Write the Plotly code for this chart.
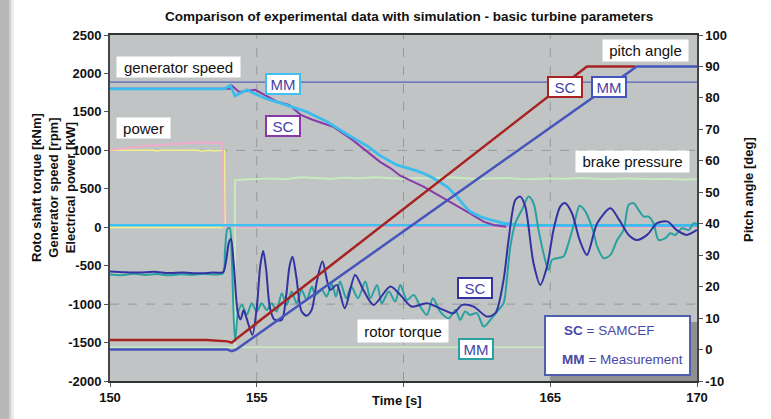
import plotly.graph_objects as go

# ---------------- data ----------------
# generator speed [rpm]
speed_mm_t = [150, 153.9, 154.1, 154.26, 154.67, 155.0, 155.35, 155.8, 156.2, 156.7, 157.4, 158.1, 158.8, 159.2,
              159.77, 160.34, 160.68, 161.02, 161.48, 161.82, 162.05, 162.27, 162.61, 162.96, 163.41, 163.87, 164.2, 170]
speed_mm_v = [1800, 1800, 1843, 1709, 1787, 1722, 1670, 1618, 1566, 1502, 1372, 1203, 1048, 931,
              810, 745, 702, 637, 528, 398, 290, 203, 138, 95, 52, 30, 25, 25]
speed_sc_t = [150, 154.1, 154.15, 154.4, 154.95, 155.25, 155.7, 156.1, 156.5, 156.9, 157.6, 158.25, 158.9, 159.2,
              159.55, 159.89, 160.68, 161.48, 162.16, 162.73, 163.07, 163.5]
speed_sc_v = [1800, 1800, 1843, 1760, 1787, 1722, 1631, 1592, 1462, 1398, 1307, 1139, 944, 850,
              770, 670, 528, 355, 203, 73, 30, 5]

# electrical power [kW]
power_sc_t = [150, 150.7, 151.4, 152.2, 153.0, 153.85, 153.87, 170]
power_sc_v = [1005, 1035, 1060, 1085, 1104, 1096, 0, 0]
power_mm_t = [150, 151.5, 151.6, 151.7, 153.0, 153.1, 153.4, 153.5, 153.9, 153.92, 154.0]
power_mm_v = [1000, 1000, 988, 1000, 1000, 988, 1000, 990, 1000, 0, 0]
power_zero_t = [150, 170]
power_zero_v = [0, 0]
speed_zero_t = [150, 170]
speed_zero_v = [25, 25]

# brake pressure
brake_t = [154.26, 154.26, 154.5, 155, 155.5, 156, 156.5, 157, 157.5, 158, 158.5, 159, 159.5, 160, 160.5, 161,
           161.5, 162, 162.5, 163, 163.5, 164, 164.5, 165, 165.5, 166, 166.5, 167, 167.5, 168, 168.5, 169, 169.5, 170]
brake_v = [-1560, 610, 620, 630, 635, 625, 650, 640, 630, 645, 635, 650, 640, 630, 640, 635,
           650, 640, 630, 635, 640, 630, 625, 635, 630, 640, 630, 625, 635, 630, 625, 630, 620, 625]
brake_base_t = [150, 170]
brake_base_v = [-1560, -1560]

# rotor torque [kNm]
torque_sc_t = [150, 150.5, 151, 151.5, 152, 152.5, 153, 153.5, 153.85, 153.95, 154.05, 154.12, 154.22, 154.35,
               154.45, 154.55, 154.65, 154.85, 155.0, 155.12, 155.22, 155.32, 155.45, 155.6, 155.85, 156.0, 156.12,
               156.22, 156.35, 156.53, 156.7, 156.87, 157.05, 157.24, 157.5, 157.73, 158.0, 158.35, 158.63, 158.98,
               159.55, 159.89, 160.28, 160.8, 161.36, 161.7, 162.0, 162.39, 162.84, 163.13, 163.41, 163.58, 163.81,
               163.98, 164.15, 164.43, 164.66, 164.89, 165.11, 165.34, 165.5, 165.74, 166.0, 166.25, 166.6, 167.05,
               167.35, 167.67, 167.96, 168.3, 168.64, 169.0, 169.3, 169.65, 170]
torque_sc_v = [-575, -585, -590, -580, -595, -590, -600, -590, -585, -450, -200, -150, -500, -1100,
               -1200, -1080, -1180, -1400, -1050, -500, -310, -550, -1050, -1200, -1205, -900, -500,
               -383, -650, -1097, -1150, -1075, -700, -447, -815, -750, -1053, -620, -815, -1010,
               -771, -880, -1032, -988, -1075, -1120, -1010, -1032, -1162, -1118, -685, -165, 355,
               398, 268, -468, -750, -512, -35, 268, 315, 182, -165, -360, 52, 247,
               95, -100, -165, -100, 52, 73, -35, -100, -35]
torque_mm_t = [150, 150.4, 150.8, 151.2, 151.6, 152, 152.4, 152.8, 153.2, 153.6, 153.85, 153.92, 154.0, 154.08,
               154.15, 154.26, 154.37, 154.5, 154.66, 154.83, 155.0, 155.17, 155.34, 155.51, 155.68, 155.85,
               156.02, 156.19, 156.36, 156.53, 156.7, 156.88, 156.99, 157.22, 157.38, 157.56, 157.7, 157.84,
               158.05, 158.22, 158.45, 158.7, 158.87, 159.1, 159.26, 159.5, 159.72, 159.89, 160.12, 160.35,
               160.57, 160.8, 161.0, 161.25, 161.54, 161.77, 161.93, 162.1, 162.27, 162.5, 162.73, 162.96,
               163.19, 163.41, 163.52, 163.64, 163.81, 164.04, 164.26, 164.43, 164.6, 164.77, 164.94, 165.06,
               165.23, 165.45, 165.62, 165.85, 166.0, 166.2, 166.45, 166.6, 166.82, 167.05, 167.28, 167.5,
               167.67, 167.84, 168.01, 168.18, 168.35, 168.52, 168.69, 168.92, 169.09, 169.26, 169.49, 169.72,
               169.89, 170]
torque_mm_v = [-615, -625, -605, -620, -610, -625, -612, -620, -605, -615, -600, -300, -20, -10,
               -400, -1487, -1097, -1010, -1140, -988, -1097, -988, -1075, -988, -1097, -858,
               -1010, -836, -988, -815, -945, -771, -880, -815, -901, -740, -901, -706,
               -923, -771, -923, -706, -923, -750, -988, -836, -967, -750, -945, -880,
               -1032, -1140, -923, -1097, -1183, -1075, -1205, -1097, -1140, -1118, -1292, -1205,
               -1097, -988, -685, -252, 52, 230, 398, 312, -35, -338, -555, -425,
               -403, -382, -208, 100, 280, 203, -35, -252, -403, -360, -165, -35,
               290, 312, 225, 138, 138, 52, -165, -143, -78, -100, -13, -35,
               52, 40]

# pitch angle [deg] (right axis)
pitch_sc_t = [150, 153.3, 154.0, 154.15, 154.25, 166.25, 167.9]
pitch_sc_v = [3.0, 3.0, 2.6, 2.2, 3.0, 90, 90]
pitch_mm_t = [150, 154.0, 154.15, 154.3, 167.95, 170]
pitch_mm_v = [0, 0, -0.5, 0, 90, 90]
ref_line_t = [150, 170]
ref_line_v = [85, 85]

x_ticks = [150, 155, 160, 165, 170]
x_tick_text = ["150", "155", "", "165", "170"]
y_ticks = list(range(-2000, 2501, 500))
y2_ticks = list(range(-10, 101, 10))

# ---------------- figure ----------------
W, H = 771, 419
L, R, T, B = 110, 74, 35, 38
PW, PH = W - L - R, H - T - B

def px(x):
    return (x - L) / PW

def py(y):
    return (H - B - y) / PH

fig = go.Figure()

def line(t, v, color, width, yaxis="y", shape="linear"):
    fig.add_trace(go.Scatter(x=t, y=v, mode="lines",
                             line=dict(color=color, width=width, shape=shape, smoothing=0.8),
                             yaxis=yaxis, showlegend=False, hoverinfo="skip"))

line(brake_base_t, brake_base_v, "#c8ecc0", 1.5)
line(power_zero_t, power_zero_v, "#f2f08a", 2)
line(power_mm_t, power_mm_v, "#f2f08a", 1.5)
line(power_sc_t, power_sc_v, "#f4a8cc", 1.8)
line(brake_t, brake_v, "#c8ecc0", 1.8)
line(speed_zero_t, speed_zero_v, "#40c0f0", 2.5)
line(ref_line_t, ref_line_v, "#5565b8", 1.3, "y2")
line(pitch_sc_t, pitch_sc_v, "#a82222", 2.5, "y2")
line(pitch_mm_t, pitch_mm_v, "#4455bb", 2.5, "y2")
line(speed_sc_t, speed_sc_v, "#8a3aa8", 2)
line(speed_mm_t, speed_mm_v, "#3cbcec", 2.8)
line(torque_mm_t, torque_mm_v, "#2aa0a0", 2, shape="spline")
line(torque_sc_t, torque_sc_v, "#3232a2", 2, shape="spline")

shapes = []
# left decorative gray strip
for x0, x1, c in [(0, 9, "#b8b8b8"), (9, 11, "#cfcfcf"), (11, 14, "#ebebeb")]:
    shapes.append(dict(type="rect", xref="paper", yref="paper", x0=px(x0), x1=px(x1), y0=py(H), y1=py(0),
                       fillcolor=c, line=dict(width=0), layer="below"))
# grid lines
for xv in [155, 160, 165]:
    shapes.append(dict(type="line", xref="x", yref="paper", x0=xv, x1=xv, y0=0, y1=1,
                       line=dict(color="#959898", width=1, dash="dash"), layer="below"))
for yv in [1000, -1000]:
    shapes.append(dict(type="line", xref="paper", yref="y", x0=0, x1=1, y0=yv, y1=yv,
                       line=dict(color="#959898", width=1, dash="dash"), layer="below"))
# legend box shadow + box
shapes.append(dict(type="rect", xref="paper", yref="paper", x0=px(551), x1=px(697), y0=py(381), y1=py(322),
                   fillcolor="#8e9090", line=dict(width=0), layer="above"))
shapes.append(dict(type="rect", xref="paper", yref="paper", x0=px(545), x1=px(690), y0=py(375), y1=py(316),
                   fillcolor="white", line=dict(color="#5060b0", width=2), layer="above"))

ann = []
lab_font = dict(family="Liberation Sans, Arial, sans-serif", size=15, color="#111111")

def label(text, cx, cy, w, h):
    ann.append(dict(text=text, x=px(cx), y=py(cy), xref="paper", yref="paper", showarrow=False,
                    font=lab_font, bgcolor="white", borderpad=0, width=w, height=h,
                    xanchor="center", yanchor="middle"))

label("generator speed", 178, 67, 123, 20)
label("power", 143, 128, 53, 20)
label("pitch angle", 645, 51, 85, 21)
label("brake pressure", 632, 161, 113, 21)
label("rotor torque", 403, 331, 90, 22)

def tag(text, cx, cy, border):
    ann.append(dict(text=text, x=px(cx), y=py(cy), xref="paper", yref="paper", showarrow=False,
                    font=dict(family="Liberation Sans, Arial, sans-serif", size=15, color="#4444a4"),
                    bgcolor="white", bordercolor=border, borderwidth=2, borderpad=0, width=32, height=18,
                    xanchor="center", yanchor="middle"))

tag("MM", 283, 84, "#40c0f0")
tag("SC", 283, 126, "#8a3aa8")
tag("SC", 565, 87, "#a82222")
tag("MM", 609, 87, "#4455bb")
tag("SC", 475, 288, "#3232a2")
tag("MM", 476, 349, "#2aa0a0")

leg_font = dict(family="Liberation Sans, Arial, sans-serif", size=13.5, color="#4848a8")
ann.append(dict(text="<b>SC</b> = SAMCEF", x=px(562), y=py(330), xref="paper", yref="paper",
                showarrow=False, font=leg_font, xanchor="left", yanchor="middle"))
ann.append(dict(text="<b>MM</b> = Measurement", x=px(560), y=py(359), xref="paper", yref="paper",
                showarrow=False, font=leg_font, xanchor="left", yanchor="middle"))

# titles
ann.append(dict(text="<b>Comparison of experimental data with simulation - basic turbine parameters</b>",
                x=px(409), y=py(16), xref="paper", yref="paper", showarrow=False,
                font=dict(family="Liberation Sans Narrow, Liberation Sans, Arial, sans-serif", size=13.5, color="#111111"),
                xanchor="center", yanchor="middle"))
ann.append(dict(text="<b>Roto shaft torque [kNm]<br>Generator speed [rpm]<br>Electrical power [kW]</b>",
                x=px(53), y=py(187), xref="paper", yref="paper", showarrow=False, textangle=-90,
                font=dict(family="Liberation Sans, Arial, sans-serif", size=13, color="#111111"),
                xanchor="center", yanchor="middle"))
ann.append(dict(text="<b>Pitch angle [deg]</b>", x=px(748), y=py(190), xref="paper", yref="paper",
                showarrow=False, textangle=-90,
                font=dict(family="Liberation Sans, Arial, sans-serif", size=13, color="#111111"),
                xanchor="center", yanchor="middle"))
ann.append(dict(text="<b>Time [s]</b>", x=px(397), y=py(400), xref="paper", yref="paper", showarrow=False,
                font=dict(family="Liberation Sans, Arial, sans-serif", size=13, color="#111111"),
                xanchor="center", yanchor="middle"))

tick_font = dict(family="Liberation Sans, Arial, sans-serif", size=13, color="#111111", weight="bold")

fig.update_layout(
    width=W, height=H, margin=dict(l=L, r=R, t=T, b=B, autoexpand=False),
    paper_bgcolor="white", plot_bgcolor="#c0c4c4",
    shapes=shapes, annotations=ann, showlegend=False,
    xaxis=dict(range=[150, 170], tickvals=x_ticks, ticktext=x_tick_text,
               showgrid=False, zeroline=False, showline=True, linecolor="#333333", linewidth=1.5,
               mirror=True, ticks="outside", ticklen=4, tickcolor="#555555", tickfont=tick_font),
    yaxis=dict(range=[-2000, 2500], tickvals=y_ticks, ticktext=[str(v) for v in y_ticks],
               showgrid=False, zeroline=False, showline=True, linecolor="#444444", linewidth=2,
               ticks="outside", ticklen=4, tickcolor="#555555", tickfont=tick_font),
    yaxis2=dict(range=[-10, 100], tickvals=y2_ticks, ticktext=[str(v) for v in y2_ticks],
                overlaying="y", side="right", showgrid=False, zeroline=False, showline=True,
                linecolor="#444444", linewidth=1.5, ticks="outside", ticklen=4, tickcolor="#555555",
                tickfont=tick_font),
)

fig.write_html("out.html")
